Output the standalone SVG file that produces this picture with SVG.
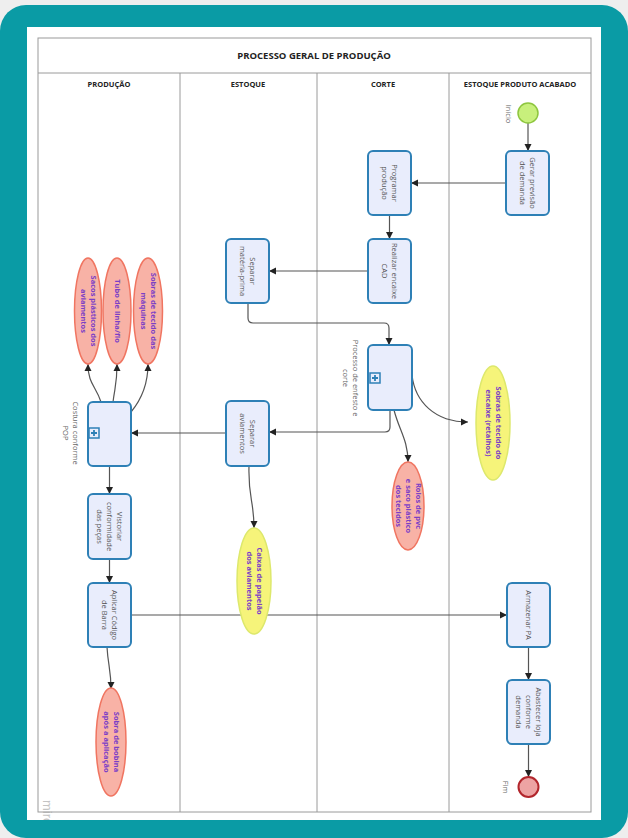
<svg xmlns="http://www.w3.org/2000/svg" width="628" height="838" viewBox="0 0 628 838">
<defs>
<marker id="arr" markerWidth="8" markerHeight="8" refX="7" refY="4" orient="auto" markerUnits="userSpaceOnUse">
<path d="M0,0.5 L7,4 L0,7.5 Z" fill="#222"/>
</marker>
<clipPath id="inner"><rect x="27" y="27" width="574" height="793"/></clipPath>
<style>
.frame{fill:none;stroke:#9a9a9a;stroke-width:1}
.title{font-family:"Open Sans","Liberation Sans",sans-serif;font-weight:bold;font-size:9.5px;fill:#222;text-anchor:middle}
.hdr{font-family:"Open Sans","Liberation Sans",sans-serif;font-weight:bold;font-size:7.5px;fill:#222;text-anchor:middle}
.box{fill:#e9edfc;stroke:#2e80b6;stroke-width:2}
.bt{font-family:"Open Sans","Liberation Sans",sans-serif;font-size:7.5px;fill:#555;text-anchor:middle}
.lbl{font-family:"Open Sans","Liberation Sans",sans-serif;font-size:7.5px;fill:#666;text-anchor:middle}
.et{font-family:"Open Sans","Liberation Sans",sans-serif;font-weight:bold;font-size:7.5px;fill:#7b3fc6;text-anchor:middle}
.pink{fill:#f8b2a6;stroke:#f07561;stroke-width:1.5}
.yel{fill:#f6f47a;stroke:#dde86c;stroke-width:1.5}
.con{fill:none;stroke:#555;stroke-width:1.2;marker-end:url(#arr)}
.sub{fill:#e9edfc;stroke:#2e80b6;stroke-width:1.5}
</style>
</defs>
<rect x="0" y="0" width="628" height="838" fill="#eeeeee"/>
<rect x="0" y="5" width="628" height="833" rx="26" fill="#0a9ba5"/>
<rect x="27" y="27" width="574" height="793" fill="#ffffff"/>

<g clip-path="url(#inner)">
<text x="46" y="800" transform="rotate(90 46 800)" font-family="Liberation Sans, sans-serif" font-size="13" fill="#c4c4c4" dominant-baseline="middle">miro</text>
</g>

<g id="pool">
<rect class="frame" x="38" y="38" width="553" height="774"/>
<line class="frame" x1="38" y1="73" x2="591" y2="73"/>
<line class="frame" x1="180" y1="73" x2="180" y2="812"/>
<line class="frame" x1="317" y1="73" x2="317" y2="812"/>
<line class="frame" x1="449" y1="73" x2="449" y2="812"/>
<text class="title" x="314" y="59">PROCESSO GERAL DE PRODUÇÃO</text>
<text class="hdr" x="109" y="87">PRODUÇÃO</text>
<text class="hdr" x="248" y="87">ESTOQUE</text>
<text class="hdr" x="383" y="87">CORTE</text>
<text class="hdr" x="520" y="87">ESTOQUE PRODUTO ACABADO</text>
</g>

<g id="connectors">
<path class="con" d="M528,123 V151"/>
<path class="con" d="M506,183 H411"/>
<path class="con" d="M389.5,215 V239"/>
<path class="con" d="M368,271 H269"/>
<path class="con" d="M248,303 V318 Q248,323 253,323 H384 Q389,323 389,328 V345"/>
<path class="con" d="M390,410 V427 Q390,432 385,432 H269"/>
<path class="con" d="M412,375 C415,402 435,422 468,422"/>
<path class="con" d="M394,410 C399,430 408,440 408,462"/>
<path class="con" d="M226,433 H131"/>
<path class="con" d="M249,466 C248,498 254,500 254,528"/>
<path class="con" d="M109.5,466 V494"/>
<path class="con" d="M109.5,559 V583"/>
<path class="con" d="M131,615 H507"/>
<path class="con" d="M107,647 C108,665 111,670 111,689"/>
<path class="con" d="M528.5,647 V680"/>
<path class="con" d="M528.5,744 V777"/>
<path class="con" d="M101,402 C96,386 88,384 88,364"/>
<path class="con" d="M113,402 C115,386 117,384 117,364"/>
<path class="con" d="M131,412 C141,400 148,386 148,364"/>
</g>

<g id="inicio">
<circle cx="528" cy="113" r="10" fill="#c8f07c" stroke="#8ec63f" stroke-width="1.5"/>
<text class="lbl" transform="translate(508,114) rotate(90)" y="2.5">Início</text>
</g>
<g id="gerar">
<rect class="box" x="506" y="151" width="43" height="64" rx="5"/>
<text class="bt" transform="translate(527.5,183) rotate(90)"><tspan x="0" y="-2.5">Gerar previsão</tspan><tspan x="0" y="7.5">de demanda</tspan></text>
</g>
<g id="programar">
<rect class="box" x="368" y="151" width="43" height="64" rx="5"/>
<text class="bt" transform="translate(389.5,183) rotate(90)"><tspan x="0" y="-2.5">Programar</tspan><tspan x="0" y="7.5">produção</tspan></text>
</g>
<g id="realizar">
<rect class="box" x="368" y="239" width="43" height="64" rx="5"/>
<text class="bt" transform="translate(389.5,271) rotate(90)"><tspan x="0" y="-2.5">Realizar encaixe</tspan><tspan x="0" y="7.5">CAD</tspan></text>
</g>
<g id="separar-mp">
<rect class="box" x="226" y="239" width="43" height="64" rx="5"/>
<text class="bt" transform="translate(247.5,271) rotate(90)"><tspan x="0" y="-2.5">Separar</tspan><tspan x="0" y="7.5">matéria-prima</tspan></text>
</g>
<g id="processo">
<rect class="box" x="368" y="345" width="44" height="65" rx="5"/>
<rect class="sub" x="370" y="373" width="10" height="10"/>
<path d="M375,375 V381 M372,378 H378" stroke="#2e80b6" stroke-width="1.8"/>
<text class="lbl" transform="translate(350,378) rotate(90)"><tspan x="0" y="-2.5">Processo de enfesto e</tspan><tspan x="0" y="7.5">corte</tspan></text>
</g>
<g id="separar-av">
<rect class="box" x="226" y="401" width="43" height="65" rx="5"/>
<text class="bt" transform="translate(247.5,433.5) rotate(90)"><tspan x="0" y="-2.5">Separar</tspan><tspan x="0" y="7.5">aviamentos</tspan></text>
</g>
<g id="costura">
<rect class="box" x="88" y="402" width="43" height="64" rx="5"/>
<rect class="sub" x="89" y="428" width="10" height="10"/>
<path d="M94,430 V436 M91,433 H97" stroke="#2e80b6" stroke-width="1.8"/>
<text class="lbl" transform="translate(70,433) rotate(90)"><tspan x="0" y="-2.5">Costura conforme</tspan><tspan x="0" y="7.5">POP</tspan></text>
</g>
<g id="vistoriar">
<rect class="box" x="88" y="494" width="43" height="65" rx="5"/>
<text class="bt" transform="translate(109.5,526.5) rotate(90)"><tspan x="0" y="-7.5">Vistoriar</tspan><tspan x="0" y="2.5">conformidade</tspan><tspan x="0" y="12.5">das peças</tspan></text>
</g>
<g id="aplicar">
<rect class="box" x="88" y="583" width="43" height="64" rx="5"/>
<text class="bt" transform="translate(109.5,615) rotate(90)"><tspan x="0" y="-2.5">Aplicar Código</tspan><tspan x="0" y="7.5">de Barra</tspan></text>
</g>
<g id="armazenar">
<rect class="box" x="507" y="583" width="43" height="64" rx="5"/>
<text class="bt" transform="translate(528.5,615) rotate(90)" y="2.5">Armazenar PA</text>
</g>
<g id="abastecer">
<rect class="box" x="507" y="680" width="43" height="64" rx="5"/>
<text class="bt" transform="translate(528.5,712) rotate(90)"><tspan x="0" y="-7.5">Abastecer loja</tspan><tspan x="0" y="2.5">conforme</tspan><tspan x="0" y="12.5">demanda</tspan></text>
</g>
<g id="fim">
<circle cx="528.5" cy="787" r="10" fill="#eda3a3" stroke="#b2262c" stroke-width="2"/>
<text class="lbl" transform="translate(505,787) rotate(90)" y="2.5">Fim</text>
</g>

<g id="sacos">
<ellipse class="pink" cx="88" cy="311" rx="13.5" ry="53"/>
<text class="et" transform="translate(88,311) rotate(90)"><tspan x="0" y="-2.5">Sacos plásticos dos</tspan><tspan x="0" y="7.5">aviamentos</tspan></text>
</g>
<g id="tubo">
<ellipse class="pink" cx="117" cy="311" rx="14" ry="53"/>
<text class="et" transform="translate(117,311) rotate(90)" y="2.5">Tubo de linha/fio</text>
</g>
<g id="sobras-maq">
<ellipse class="pink" cx="148" cy="311" rx="14.5" ry="53"/>
<text class="et" transform="translate(148,311) rotate(90)"><tspan x="0" y="-2.5">Sobras de tecido das</tspan><tspan x="0" y="7.5">máquinas</tspan></text>
</g>
<g id="sobras-encaixe">
<ellipse class="yel" cx="493" cy="423" rx="17" ry="57"/>
<text class="et" transform="translate(493,423) rotate(90)"><tspan x="0" y="-2.5">Sobras de tecido do</tspan><tspan x="0" y="7.5">encaixe (retalhos)</tspan></text>
</g>
<g id="rolos">
<ellipse class="pink" cx="408" cy="506" rx="16" ry="44"/>
<text class="et" transform="translate(408,506) rotate(90)"><tspan x="0" y="-7.5">Rolos de pvc</tspan><tspan x="0" y="2.5">e saco plástico</tspan><tspan x="0" y="12.5">dos tecidos</tspan></text>
</g>
<g id="caixas">
<ellipse class="yel" cx="254" cy="581" rx="17" ry="53"/>
<text class="et" transform="translate(254,581) rotate(90)"><tspan x="0" y="-2.5">Caixas de papelão</tspan><tspan x="0" y="7.5">dos aviamentos</tspan></text>
</g>
<g id="sobra-bobina">
<ellipse class="pink" cx="111" cy="742" rx="15" ry="54"/>
<text class="et" transform="translate(111,742) rotate(90)"><tspan x="0" y="-2.5">Sobra de bobina</tspan><tspan x="0" y="7.5">após a aplicação</tspan></text>
</g>
</svg>
